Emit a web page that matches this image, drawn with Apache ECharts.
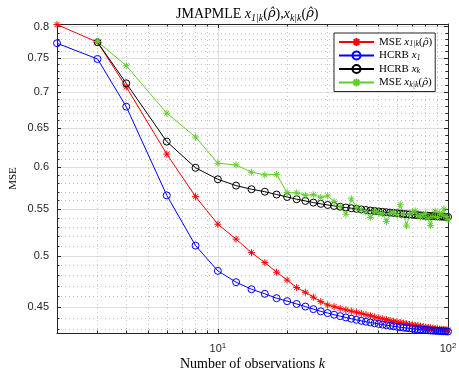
<!DOCTYPE html>
<html><head><meta charset="utf-8">
<script src="https://cdn.jsdelivr.net/npm/echarts@6/dist/echarts.min.js"></script>
<style>html,body{margin:0;padding:0;background:#fff}#c{width:459px;height:371px}</style>
</head><body><div id="c"></div>
<script>
// ---- data ----
const kValues = [2,3,4,6,8,10,12,14,16,18,20,22,24,26,28,30,32,34,36,38,40,42,44,46,48,50,52,54,56,58,60,62,64,66,68,70,72,74,76,78,80,82,84,86,88,90,92,94,96,98,100];
const mseX1 = [0.8035,0.775,0.707,0.616,0.5646,0.5335,0.5174,0.5033,0.4931,0.4835,0.4757,0.4685,0.4640,0.4593,0.4552,0.4521,
  0.4505,0.4489,0.4476,0.4464,0.4454, 0.4443,0.4432,0.4422,0.4411,0.4402, 0.4394,0.4387,0.4379,0.4372,0.4366,
  0.4360,0.4355,0.4350,0.4345,0.4340, 0.4336,0.4332,0.4328,0.4324,0.4320, 0.4317,0.4314,0.4311,0.4308,0.4305,
  0.4303,0.4301,0.4299,0.4297,0.4295];
const hcrbX1 = [0.7733,0.7488,0.679,0.566,0.5106,0.4848,0.4737,0.4669,0.4625,0.4584,0.4556,0.4530,0.4506,0.4482,0.4462,0.4446,
  0.4431,0.4418,0.4406,0.4395,0.4385, 0.4376,0.4368,0.4361,0.4354,0.4348, 0.4342,0.4337,0.4332,0.4327,0.4323,
  0.4319,0.4315,0.4312,0.4309,0.4306, 0.4303,0.4300,0.4298,0.4296,0.4294, 0.4292,0.4290,0.4289,0.4287,0.4286,
  0.4285,0.4284,0.4283,0.4282,0.4281];
const hcrbXk = [null,0.775,0.7123,0.632,0.599,0.585,0.5775,0.5732,0.5703,0.5670,0.5642,0.5616,0.5596,0.5577,0.5563,0.5550,
  0.5539,0.5530,0.5521,0.5513,0.5506, 0.5499,0.5493,0.5487,0.5482,0.5477, 0.5472,0.5468,0.5464,0.5460,0.5456,
  0.5452,0.5449,0.5446,0.5443,0.5440, 0.5438,0.5435,0.5433,0.5431,0.5429, 0.5427,0.5425,0.5424,0.5422,0.5421,
  0.5420,0.5419,0.5418,0.5417,0.5416];
const mseXk = [null,0.776,0.7385,0.670,0.638,0.6046,0.6025,0.5936,0.5903,0.5910,0.5692,0.5690,0.5662,0.5668,0.5637,0.5655,
  0.5588,0.5530,0.5445,0.5620,0.5525, 0.5490,0.5470,0.5410,0.5480,0.5460, 0.5450,0.5364,0.5455,0.5470,0.5440,
  0.5553,0.5450,0.5316,0.5440,0.5470, 0.5484,0.5430,0.5415,0.5440,0.5455, 0.5400,0.5320,0.5420,0.5480,0.5410,
  0.5460,0.5440,0.5505,0.5420,0.5385];
const xRange = [2, 100];
const yRange = [0.4268, 0.8045];
const xMajorTicks = [10, 100];
const xMinorTicks = [3,4,5,6,7,8,9,20,30,40,50,60,70,80,90];
const yMajorTicks = [0.45,0.5,0.55,0.6,0.65,0.7,0.75,0.8];
const yTickLabels = ['0.45','0.5','0.55','0.6','0.65','0.7','0.75','0.8'];
const yMinorTicks = [0.43,0.44,0.46,0.47,0.48,0.49,0.51,0.52,0.53,0.54,0.56,0.57,0.58,0.59,0.61,0.62,0.63,0.64,0.66,0.67,0.68,0.69,0.71,0.72,0.73,0.74,0.76,0.77,0.78,0.79];
const seriesNames = ['mse1','hcrb1','hcrbk','msek'];

// ---- chart ----
const L = v => Math.log10(v);
const SERIF = 'Liberation Serif';
const SANS = 'Liberation Sans';
const AX = '#262626';
const STAR = 'path://M0,-10L0,10M-10,0L10,0M-7.07,-7.07L7.07,7.07M-7.07,7.07L7.07,-7.07';
function tok(size, italic, lh, va, fam) {
  const o = {fontFamily: fam || SERIF, fontSize: size, fontStyle: italic ? 'italic' : 'normal', color: '#000', lineHeight: lh};
  if (va) o.verticalAlign = va;
  return o;
}
const pts = arr => kValues.map((k, i) => arr[i] == null ? null : [L(k), L(arr[i])]).filter(p => p);

const xMin = L(xRange[0]), xMax = L(xRange[1]);
const yMin = L(yRange[0]), yMax = L(yRange[1]);

function xAx(pos, ticks, major, extra) {
  return Object.assign({
    type: 'value', gridIndex: 0, position: pos, min: xMin, max: xMax,
    axisLine: {show: major, onZero: false, lineStyle: {color: AX, width: 1}},
    axisTick: {show: true, inside: true, length: major ? 4 : 2.5, customValues: ticks.map(L), lineStyle: {color: AX, width: 1}},
    axisLabel: {show: false},
    splitLine: {show: false}
  }, extra || {});
}
function yAx(pos, ticks, major, extra) {
  return Object.assign({
    type: 'value', gridIndex: 0, position: pos, min: yMin, max: yMax,
    axisLine: {show: major, onZero: false, lineStyle: {color: AX, width: 1}},
    axisTick: {show: true, inside: true, length: major ? 4 : 2.5, customValues: ticks.map(L), lineStyle: {color: AX, width: 1}},
    axisLabel: {show: false},
    splitLine: {show: false}
  }, extra || {});
}

const xAxes = [
  xAx('bottom', xMajorTicks, true, {
    axisLabel: {show: true, customValues: xMajorTicks.map(L), margin: 9, color: AX, fontFamily: SANS, fontSize: 11, lineHeight: 14,
      formatter: v => '10{sup|' + Math.round(v) + '}',
      rich: {sup: {fontFamily: SANS, fontSize: 8, color: AX, lineHeight: 9, verticalAlign: 'top'}}},
    splitLine: {show: true, lineStyle: {color: '#dedede', width: 1}},
    name: 'Number of observations {i|k}', nameLocation: 'middle', nameGap: 23, nameMoveOverlap: false,
    nameTextStyle: {fontFamily: SERIF, fontSize: 14, color: '#000', lineHeight: 16,
      rich: {i: tok(14, true, 16)}}
  }),
  xAx('bottom', xMinorTicks, false, {splitLine: {show: true, lineStyle: {color: '#c4c4c4', width: 1, type: [1, 3]}}}),
  xAx('top', xMajorTicks, true),
  xAx('top', xMinorTicks, false)
];
const yAxes = [
  yAx('left', yMajorTicks, true, {
    axisLabel: {show: true, customValues: yMajorTicks.map(L), margin: 8, color: AX, fontFamily: SANS, fontSize: 11,
      formatter: v => { const i = yMajorTicks.findIndex(t => Math.abs(L(t) - v) < 1e-6); return i >= 0 ? yTickLabels[i] : ''; }},
    splitLine: {show: true, lineStyle: {color: '#dedede', width: 1}},
    name: 'MSE', nameLocation: 'middle', nameGap: 38, nameMoveOverlap: false,
    nameTextStyle: {fontFamily: SERIF, fontSize: 11, color: '#000'}
  }),
  yAx('left', yMinorTicks, false, {splitLine: {show: true, lineStyle: {color: '#c4c4c4', width: 1, type: [1, 3]}}}),
  yAx('right', yMajorTicks, true),
  yAx('right', yMinorTicks, false)
];

function lineSeries(name, arr, color, symbol, hollow) {
  return {
    name: name, type: 'line', xAxisIndex: 0, yAxisIndex: 0, data: pts(arr),
    symbol: symbol, symbolSize: 7, clip: false, animation: false,
    lineStyle: {color: color, width: 1},
    itemStyle: {color: hollow ? 'rgba(0,0,0,0)' : color, borderColor: color, borderWidth: 1},
    emphasis: {disabled: true}
  };
}

const legendLabels = {
  mse1: 'MSE {i|x}{s|1|k}{n|(}{r|ρ̂}{n|)}',
  hcrb1: 'HCRB {i|x}{s|1}',
  hcrbk: 'HCRB {i|x}{s|k}',
  msek: 'MSE {i|x}{s|k|k}{n|(}{r|ρ̂}{n|)}'
};

const option = {
  backgroundColor: '#fff',
  animation: false,
  title: {
    text: 'JMAPMLE {i|x}{s|1|k}{n|(}{r|ρ̂}{n|),}{i|x}{s|k|k}{n|(}{r|ρ̂}{n|)}',
    left: 176, top: 5, padding: 0,
    textStyle: {fontFamily: SERIF, fontSize: 14, fontWeight: 'normal', color: '#000', lineHeight: 18,
      rich: {i: tok(14, true, 18), n: tok(14, false, 18), r: tok(13, true, 18, null, 'DejaVu Serif'), s: tok(10, true, 10, 'bottom')}}
  },
  grid: {left: 57, right: 11, top: 24, bottom: 38, containLabel: false, outerBoundsMode: 'none'},
  legend: {
    data: seriesNames, orient: 'vertical', left: 334, top: 33,
    padding: [3, 3, 3, 4], itemGap: 1.5, itemWidth: 35, itemHeight: 10,
    backgroundColor: '#fff', borderColor: AX, borderWidth: 1, borderRadius: 0,
    selectedMode: false,
    formatter: n => legendLabels[n],
    textStyle: {fontFamily: SERIF, fontSize: 11, color: '#000', lineHeight: 12,
      rich: {i: tok(11, true, 12), n: tok(11, false, 12), r: tok(10, true, 12, null, 'DejaVu Serif'), s: tok(8, true, 7, 'bottom')}}
  },
  xAxis: xAxes,
  yAxis: yAxes,
  series: [
    lineSeries('mse1', mseX1, '#ff0000', STAR, false),
    lineSeries('hcrb1', hcrbX1, '#0000ff', 'circle', true),
    lineSeries('hcrbk', hcrbXk, '#000000', 'circle', true),
    lineSeries('msek', mseXk, '#5fd02a', STAR, false)
  ]
};
const chart = echarts.init(document.getElementById('c'), null, {renderer: 'canvas'});
chart.setOption(option);
</script></body></html>
